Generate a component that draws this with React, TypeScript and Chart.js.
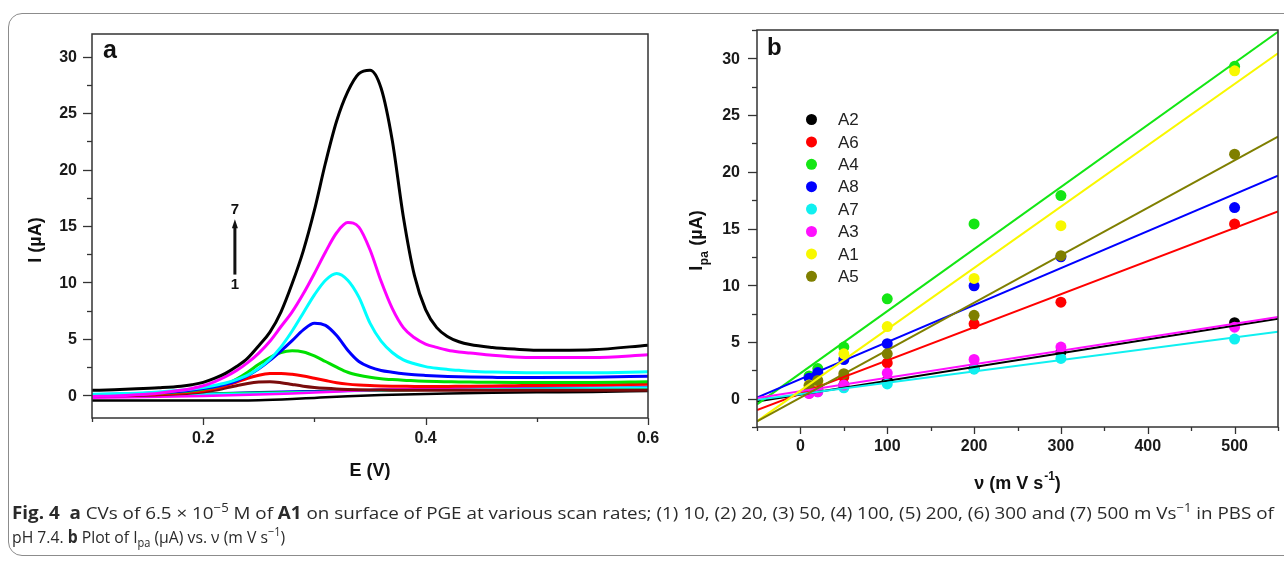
import React, { useEffect, useRef } from "react";
import { Chart, registerables } from "chart.js";

Chart.register(...registerables);

const FONT = "'Liberation Sans', Arial, sans-serif";

// ---------------- Panel a: cyclic voltammograms ----------------
const potentialE = [0.10, 0.12, 0.14, 0.16, 0.18, 0.19, 0.20, 0.21, 0.22, 0.23, 0.24, 0.25, 0.26, 0.27, 0.28, 0.29, 0.30, 0.31, 0.32, 0.33, 0.34, 0.35, 0.36, 0.37, 0.38, 0.39, 0.40, 0.41, 0.42, 0.43, 0.44, 0.46, 0.48, 0.50, 0.55, 0.60];
const scan1 = [-0.05, -0.03, 0.0, 0.05, 0.14, 0.21, 0.31, 0.45, 0.65, 0.86, 1.05, 1.18, 1.22, 1.13, 0.97, 0.82, 0.71, 0.63, 0.57, 0.53, 0.5, 0.48, 0.47, 0.46, 0.45, 0.45, 0.45, 0.45, 0.45, 0.45, 0.45, 0.45, 0.45, 0.45, 0.45, 0.46];
const scan2 = [0.0, 0.02, 0.06, 0.12, 0.22, 0.3, 0.42, 0.6, 0.85, 1.18, 1.52, 1.78, 1.93, 1.95, 1.87, 1.72, 1.52, 1.32, 1.13, 1.0, 0.92, 0.87, 0.84, 0.82, 0.81, 0.8, 0.8, 0.8, 0.8, 0.81, 0.82, 0.84, 0.86, 0.88, 0.92, 0.98];
const scan3 = [0.05, 0.08, 0.12, 0.2, 0.32, 0.42, 0.55, 0.72, 0.98, 1.45, 2.05, 2.75, 3.35, 3.8, 3.95, 3.85, 3.5, 3.0, 2.5, 2.05, 1.78, 1.6, 1.48, 1.4, 1.34, 1.3, 1.26, 1.23, 1.21, 1.19, 1.18, 1.16, 1.15, 1.15, 1.15, 1.2];
const scan4 = [0.08, 0.1, 0.15, 0.24, 0.37, 0.47, 0.6, 0.76, 0.98, 1.3, 1.75, 2.35, 3.1, 3.95, 4.85, 5.8, 6.4, 6.2, 5.3, 4.0, 3.0, 2.5, 2.2, 2.05, 1.92, 1.83, 1.77, 1.72, 1.68, 1.65, 1.63, 1.6, 1.58, 1.58, 1.6, 1.7];
const scan5 = [0.1, 0.15, 0.2, 0.3, 0.45, 0.56, 0.7, 0.88, 1.1, 1.4, 1.8, 2.4, 3.2, 4.3, 5.7, 7.3, 8.9, 10.2, 10.8, 10.2, 8.7, 6.4, 4.8, 3.8, 3.15, 2.8, 2.55, 2.4, 2.3, 2.22, 2.15, 2.07, 2.02, 2.0, 2.0, 2.1];
const scan6 = [-0.1, -0.05, 0.05, 0.2, 0.45, 0.62, 0.85, 1.2, 1.65, 2.2, 2.9, 3.75, 4.8, 6.1, 7.4, 9.0, 10.8, 12.7, 14.4, 15.3, 14.9, 12.9, 10.1, 7.7, 6.0, 5.1, 4.55, 4.25, 4.0, 3.85, 3.75, 3.55, 3.4, 3.35, 3.35, 3.6];
const scan7 = [0.45, 0.5, 0.58, 0.68, 0.82, 0.95, 1.15, 1.5, 1.95, 2.55, 3.3, 4.4, 5.6, 7.4, 9.9, 12.8, 16.4, 20.6, 24.3, 26.9, 28.5, 28.8, 27.2, 22.6, 15.8, 10.6, 7.6, 6.0, 5.2, 4.75, 4.5, 4.25, 4.1, 4.0, 4.05, 4.45];
const baseE = [0.10, 0.20, 0.25, 0.28, 0.30, 0.33, 0.36, 0.39, 0.42, 0.46, 0.50, 0.55, 0.60];
const baseBlack = [-0.45, -0.45, -0.42, -0.32, -0.22, -0.08, 0.03, 0.11, 0.17, 0.23, 0.27, 0.3, 0.4];
const baseMagenta = [-0.2, -0.05, 0.08, 0.18, 0.25, 0.38, 0.5, 0.6, 0.68, 0.76, 0.84, 0.9, 1.0];
const baseCyan = [0.0, 0.12, 0.2, 0.26, 0.3, 0.36, 0.42, 0.48, 0.52, 0.58, 0.62, 0.66, 0.7];
const baseGreen = [0.0, 0.15, 0.25, 0.3, 0.33, 0.38, 0.42, 0.46, 0.5, 0.55, 0.58, 0.6, 0.62];
const baseBlue = [0.0, 0.18, 0.3, 0.36, 0.4, 0.46, 0.52, 0.56, 0.6, 0.64, 0.68, 0.7, 0.72];
const aXMajor = [0.2, 0.4, 0.6];
const aXMinor = [0.1, 0.3, 0.5];
const aYMajor = [0, 5, 10, 15, 20, 25, 30];
const aYMinor = [2.5, 7.5, 12.5, 17.5, 22.5, 27.5];

// ---------------- Panel b: Ipa vs scan rate ----------------
const scanRates = [10, 20, 50, 100, 200, 300, 500];
const ipaA2 = [0.5, 0.8, 1.2, 1.6, 2.65, 4.1, 6.7];
const ipaA6 = [0.8, 1.0, 1.9, 3.15, 6.6, 8.5, 15.4];
const ipaA4 = [2.0, 2.65, 4.55, 8.8, 15.4, 17.9, 29.3];
const ipaA8 = [1.8, 2.3, 3.45, 4.85, 9.95, 12.5, 16.85];
const ipaA7 = [0.5, 0.6, 0.95, 1.3, 2.6, 3.55, 5.25];
const ipaA3 = [0.45, 0.6, 1.2, 2.25, 3.45, 4.55, 6.3];
const ipaA1 = [1.2, 1.5, 3.95, 6.35, 10.6, 15.25, 28.9];
const ipaA5 = [1.15, 1.6, 2.2, 3.95, 7.35, 12.6, 21.55];
const fitV = [-50, 550];
const fitA2 = [-0.25, 7.05];
const fitA6 = [-1.0, 16.5];
const fitA4 = [-0.5, 32.35];
const fitA8 = [0.1, 19.65];
const fitA7 = [-0.1, 5.9];
const fitA3 = [0.05, 7.2];
const fitA1 = [-2.0, 30.45];
const fitA5 = [-2.0, 23.1];
const compoundNames = ["A2", "A6", "A4", "A8", "A7", "A3", "A1", "A5"];
const bXMajor = [0, 100, 200, 300, 400, 500];
const bXMinor = [-50, 50, 150, 250, 350, 450, 550];
const bYMajor = [0, 5, 10, 15, 20, 25, 30];
const bYMinor = [-2.5, 2.5, 7.5, 12.5, 17.5, 22.5, 27.5, 32.5];

const pts = (xs: number[], ys: number[]) => xs.map((x, i) => ({ x, y: ys[i] }));

const compoundColors = ["#000000", "#ff0000", "#14e614", "#0000ff", "#10f0f0", "#ff10ff", "#f8f800", "#7f7f00"];

function drawAxes(
  chart: any,
  xMaj: number[], xMin: number[], yMaj: number[], yMin: number[],
  xFmt: (v: number) => string, xLabelOff: number, yLabelGap: number,
) {
  const { ctx, chartArea, scales } = chart;
  const { left, right, top, bottom } = chartArea;
  ctx.save();
  ctx.strokeStyle = "#333";
  ctx.lineWidth = 1.5;
  ctx.strokeRect(left, top, right - left, bottom - top);
  ctx.lineWidth = 1.3;
  const xs = scales.x;
  const ys = scales.y;
  const xt = (vals: number[], len: number) => {
    vals.forEach((v) => {
      const p = Math.round(xs.getPixelForValue(v)) + 0.5;
      ctx.beginPath();
      ctx.moveTo(p, bottom);
      ctx.lineTo(p, bottom + len);
      ctx.stroke();
    });
  };
  const yt = (vals: number[], len: number) => {
    vals.forEach((v) => {
      const p = Math.round(ys.getPixelForValue(v)) + 0.5;
      ctx.beginPath();
      ctx.moveTo(left - len, p);
      ctx.lineTo(left, p);
      ctx.stroke();
    });
  };
  xt(xMaj, 7);
  xt(xMin, 4);
  yt(yMaj, 9);
  yt(yMin, 5);
  // tick labels
  ctx.fillStyle = "#1a1a1a";
  ctx.font = `bold 16px ${FONT}`;
  ctx.textBaseline = "middle";
  ctx.textAlign = "center";
  xMaj.forEach((v) => ctx.fillText(xFmt(v), xs.getPixelForValue(v), bottom + xLabelOff));
  ctx.textAlign = "right";
  yMaj.forEach((v) => ctx.fillText(String(v), left - yLabelGap, ys.getPixelForValue(v) + 1));
  ctx.restore();
}

const panelAPlugin = {
  id: "panelA",
  afterDraw(chart: any) {
    const { ctx, chartArea, scales } = chart;
    const { left, right, top, bottom } = chartArea;
    drawAxes(chart, aXMajor, aXMinor, aYMajor, aYMinor, (v) => v.toFixed(1), 21, 15);
    ctx.save();
    ctx.fillStyle = "#111";
    ctx.font = `bold 25px ${FONT}`;
    ctx.textAlign = "left";
    ctx.textBaseline = "middle";
    ctx.fillText("a", left + 11, top + 17);
    // scan-rate arrow 1 -> 7
    const ax = scales.x.getPixelForValue(0.2285);
    const y0 = scales.y.getPixelForValue(10.7);
    const y1 = scales.y.getPixelForValue(14.9);
    const yTip = scales.y.getPixelForValue(15.6);
    ctx.strokeStyle = "#111";
    ctx.lineWidth = 3;
    ctx.beginPath();
    ctx.moveTo(ax, y0);
    ctx.lineTo(ax, y1);
    ctx.stroke();
    ctx.beginPath();
    ctx.moveTo(ax - 3, y1 + 1);
    ctx.lineTo(ax + 3, y1 + 1);
    ctx.lineTo(ax, yTip);
    ctx.closePath();
    ctx.fill();
    ctx.font = `bold 15px ${FONT}`;
    ctx.textAlign = "center";
    ctx.fillText("7", ax, scales.y.getPixelForValue(16.4));
    ctx.fillText("1", ax, scales.y.getPixelForValue(9.8));
    // axis titles
    ctx.font = `bold 18px ${FONT}`;
    ctx.fillText("E (V)", (left + right) / 2, bottom + 53);
    ctx.translate(left - 56, (top + bottom) / 2 + 14);
    ctx.rotate(-Math.PI / 2);
    ctx.fillText("I (\u00b5A)", 0, 0);
    ctx.restore();
  },
};

const panelBPlugin = {
  id: "panelB",
  afterDraw(chart: any) {
    const { ctx, chartArea } = chart;
    const { left, right, top, bottom } = chartArea;
    drawAxes(chart, bXMajor, bXMinor, bYMajor, bYMinor, (v) => String(v), 20, 17);
    ctx.save();
    ctx.fillStyle = "#111";
    ctx.font = `bold 24px ${FONT}`;
    ctx.textAlign = "left";
    ctx.textBaseline = "middle";
    ctx.fillText("b", left + 10, top + 18);
    // legend
    compoundNames.forEach((name, i) => {
      const cy = top + 89.5 + i * 22.4;
      ctx.fillStyle = compoundColors[i];
      ctx.beginPath();
      ctx.arc(left + 54.5, cy, 5.5, 0, Math.PI * 2);
      ctx.fill();
      ctx.fillStyle = "#222";
      ctx.font = `17px ${FONT}`;
      ctx.fillText(name, left + 81, cy + 1);
    });
    // x title with superscript
    ctx.fillStyle = "#111";
    const main = "\u03bd (m V s";
    const sup = "-1";
    const tail = ")";
    ctx.font = `bold 18px ${FONT}`;
    const wMain = ctx.measureText(main).width;
    const wTail = ctx.measureText(tail).width;
    ctx.font = `bold 12px ${FONT}`;
    const wSup = ctx.measureText(sup).width;
    const total = wMain + wSup + wTail + 1;
    const x0 = (left + right) / 2 - total / 2;
    const ty = bottom + 57;
    ctx.font = `bold 18px ${FONT}`;
    ctx.fillText(main, x0, ty);
    ctx.font = `bold 12px ${FONT}`;
    ctx.fillText(sup, x0 + wMain + 1, ty - 7);
    ctx.font = `bold 18px ${FONT}`;
    ctx.fillText(tail, x0 + wMain + wSup + 1, ty);
    // y title with subscript (rotated)
    ctx.translate(left - 60, (top + bottom) / 2 + 12);
    ctx.rotate(-Math.PI / 2);
    ctx.font = `bold 18px ${FONT}`;
    const wI = ctx.measureText("I").width;
    ctx.font = `bold 12px ${FONT}`;
    const wSub = ctx.measureText("pa").width;
    ctx.font = `bold 18px ${FONT}`;
    const rest = " (\u00b5A)";
    const wRest = ctx.measureText(rest).width;
    const tot = wI + wSub + wRest + 1;
    const sx = -tot / 2;
    ctx.fillText("I", sx, 0);
    ctx.font = `bold 12px ${FONT}`;
    ctx.fillText("pa", sx + wI + 0.5, 8);
    ctx.font = `bold 18px ${FONT}`;
    ctx.fillText(rest, sx + wI + wSub + 1, 0);
    ctx.restore();
  },
};

function axisOpts(min: number, max: number, size: number, horizontal: boolean) {
  return {
    type: "linear" as const,
    min,
    max,
    grid: { display: false },
    border: { display: false },
    ticks: { display: false },
    afterFit: (s: any) => {
      if (horizontal) s.height = size;
      else s.width = size;
    },
  };
}

function PanelA() {
  const ref = useRef<HTMLCanvasElement>(null);
  useEffect(() => {
    const curves = [
      { d: pts(baseE, baseBlue), c: "#0000ff", w: 2 },
      { d: pts(baseE, baseGreen), c: "#00e000", w: 2 },
      { d: pts(baseE, baseCyan), c: "#00ffff", w: 2 },
      { d: pts(baseE, baseMagenta), c: "#ff00ff", w: 2.5 },
      { d: pts(baseE, baseBlack), c: "#000000", w: 2.5 },
      { d: pts(potentialE, scan1), c: "#7a0c0c", w: 3 },
      { d: pts(potentialE, scan2), c: "#ff0000", w: 3 },
      { d: pts(potentialE, scan3), c: "#00e000", w: 3 },
      { d: pts(potentialE, scan4), c: "#0000ff", w: 3 },
      { d: pts(potentialE, scan5), c: "#00ffff", w: 3 },
      { d: pts(potentialE, scan6), c: "#ff00ff", w: 3 },
      { d: pts(potentialE, scan7), c: "#000000", w: 3 },
    ];
    const chart = new Chart(ref.current!, {
      type: "scatter",
      data: {
        datasets: curves.map((cv, i) => ({
          data: cv.d,
          showLine: true,
          borderColor: cv.c,
          borderWidth: cv.w,
          pointRadius: 0,
          cubicInterpolationMode: "monotone" as const,
          order: curves.length - i,
        })),
      },
      options: {
        animation: false,
        responsive: false,
        events: [],
        layout: { padding: { left: 0, top: 14, right: 12, bottom: 0 } },
        plugins: { legend: { display: false }, tooltip: { enabled: false } },
        scales: {
          x: axisOpts(0.1, 0.6, 72, true),
          y: axisOpts(-2, 32, 72, false),
        },
      },
      plugins: [panelAPlugin],
    });
    return () => chart.destroy();
  }, []);
  return <canvas ref={ref} width={640} height={470} style={{ position: "absolute", left: 20, top: 20, width: 640, height: 470 }} />;
}

function PanelB() {
  const ref = useRef<HTMLCanvasElement>(null);
  useEffect(() => {
    const ipa = [ipaA2, ipaA6, ipaA4, ipaA8, ipaA7, ipaA3, ipaA1, ipaA5];
    const fits = [fitA2, fitA6, fitA4, fitA8, fitA7, fitA3, fitA1, fitA5];
    const pointSets = ipa.map((vals, i) => ({
      data: pts(scanRates, vals),
      showLine: false,
      pointRadius: 5.5,
      pointBorderWidth: 0,
      pointBackgroundColor: compoundColors[i],
      backgroundColor: compoundColors[i],
      borderColor: compoundColors[i],
      order: 100 - i,
    }));
    const lineSets = fits.map((vals, i) => ({
      data: pts(fitV, vals),
      showLine: true,
      pointRadius: 0,
      borderWidth: 2,
      borderColor: compoundColors[i],
      order: 50 - i,
    }));
    const chart = new Chart(ref.current!, {
      type: "scatter",
      data: { datasets: [...pointSets, ...lineSets] },
      options: {
        animation: false,
        responsive: false,
        events: [],
        layout: { padding: { left: 0, top: 15, right: 6, bottom: 0 } },
        plugins: { legend: { display: false }, tooltip: { enabled: false } },
        scales: {
          x: axisOpts(-50, 550, 73, true),
          y: axisOpts(-2.5, 32.5, 77, false),
        },
      },
      plugins: [panelBPlugin],
    });
    return () => chart.destroy();
  }, []);
  return <canvas ref={ref} width={604} height={485} style={{ position: "absolute", left: 680, top: 15, width: 604, height: 485 }} />;
}

const supStyle: React.CSSProperties = { fontSize: "0.7em", verticalAlign: "0.55em", lineHeight: 0 };
const subStyle: React.CSSProperties = { fontSize: "0.7em", verticalAlign: "-0.3em", lineHeight: 0 };

export default function App() {
  const cap1 = useRef<HTMLDivElement>(null);
  const cap2 = useRef<HTMLDivElement>(null);
  useEffect(() => {
    const fit = () => {
      const pairs: [HTMLDivElement | null, number][] = [[cap1.current, 1262], [cap2.current, 273]];
      pairs.forEach(([el, target]) => {
        if (!el) return;
        el.style.transform = "none";
        const w = el.scrollWidth;
        if (w > 0) el.style.transform = `scaleX(${target / w})`;
      });
    };
    fit();
    if ((document as any).fonts && (document as any).fonts.ready) (document as any).fonts.ready.then(fit);
  }, []);
  const capStyle: React.CSSProperties = {
    position: "absolute",
    left: 12,
    whiteSpace: "nowrap",
    fontFamily: "'Open Sans', 'Liberation Sans', sans-serif",
    fontSize: 17,
    lineHeight: "20px",
    color: "#2a2a2a",
    transformOrigin: "0 0",
  };
  return (
    <div style={{ position: "absolute", left: 0, top: 0, width: 1284, height: 561, overflow: "hidden", background: "#fff" }}>
      <div style={{ position: "absolute", left: 8, top: 13, width: 1300, height: 543, border: "1.5px solid #8c8c8c", borderRadius: 14, boxSizing: "border-box" }} />
      <PanelA />
      <PanelB />
      <div ref={cap1} style={{ ...capStyle, top: 503 }}>
        <b>Fig. 4</b>&nbsp; <b>a</b> CVs of 6.5 × 10<sup style={supStyle}>−5</sup> M of <b>A1</b> on surface of PGE at various scan rates; (1) 10, (2) 20, (3) 50, (4) 100, (5) 200, (6) 300 and (7) 500 m Vs<sup style={supStyle}>−1</sup> in PBS of
      </div>
      <div ref={cap2} style={{ ...capStyle, top: 527 }}>
        pH 7.4. <b>b</b> Plot of I<sub style={subStyle}>pa</sub> (µA) vs. ν (m V s<sup style={supStyle}>−1</sup>)
      </div>
    </div>
  );
}
